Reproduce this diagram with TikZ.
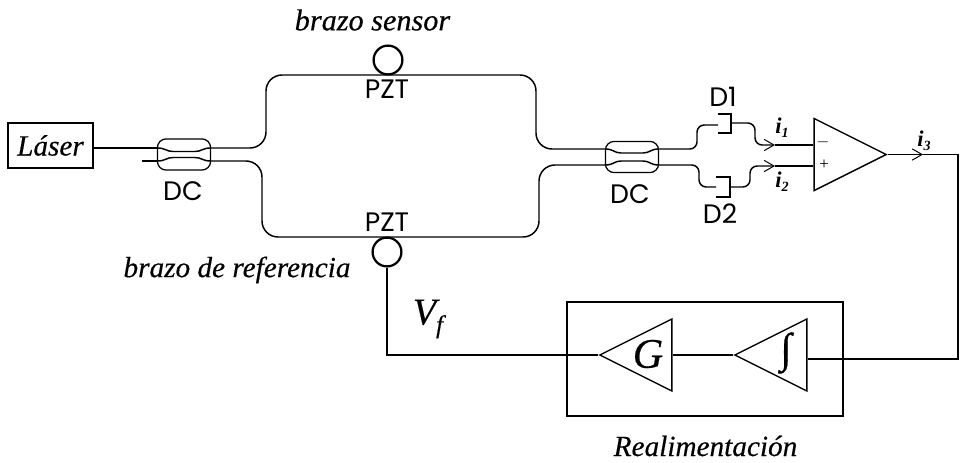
\documentclass[tikz,border=0pt]{standalone}
\usepackage{fontspec}
\usepackage{tikz}
\usetikzlibrary{shapes.geometric,arrows.meta}
\setmainfont{Liberation Serif}[ItalicFeatures={FakeBold=0.4}]
\newfontfamily\tagfont{Poppins}

\begin{document}
\begin{tikzpicture}[
  x=0.025cm,y=-0.025cm,
  fiber/.style={line width=1.05pt,rounded corners=0.4cm},
  sig/.style={line width=1.05pt,rounded corners=0.18cm},
  wire/.style={line width=1.05pt},
  tip/.style={-{Straight Barb[length=7pt,width=8pt,line width=0.7pt]}},
  coupler/.style={draw,line width=0.9pt,rounded corners=0.22cm,minimum width=1.33cm,
                  minimum height=0.78cm,inner sep=0pt},
  pzt/.style={draw,circle,line width=1.6pt,minimum size=0.72cm,inner sep=0pt},
  amp/.style={draw,isosceles triangle,isosceles triangle stretches,line width=1pt,
              minimum width=1.8cm,minimum height=1.8cm,inner sep=0pt},
  tag/.style={font=\tagfont\fontsize{19}{22}\selectfont,inner sep=0pt},
  ital/.style={font=\itshape\fontsize{20.8}{24}\selectfont,inner sep=0pt},
  cur/.style={font=\itshape\bfseries\fontsize{16}{18}\selectfont,inner sep=0pt}
]
\useasboundingbox (0,0) rectangle (960,462);
% Source
\node[draw,line width=1pt,minimum width=2.12cm,minimum height=1.12cm,inner sep=0pt,
      font=\itshape\fontsize{20.8}{24}\selectfont] (laser) at (50.5,145.5) {L\'aser};
% Couplers
\foreach \name/\cx/\cy/\dy/\wy in {dcl/184/154.5/6.5/3,dcr/632/157/8/4}{
  \node[coupler] (\name) at (\cx,\cy) {};
  \coordinate (\name-a) at (\cx-27,\cy-\dy);
  \coordinate (\name-b) at (\cx-27,\cy+\dy);
  \coordinate (\name-c) at (\cx+27,\cy-\dy);
  \coordinate (\name-d) at (\cx+27,\cy+\dy);
  \draw[wire] (\name-a) .. controls (\cx-18,\cy-\dy) and (\cx-18,\cy-\wy) .. (\cx-11,\cy-\wy)
     -- (\cx+11,\cy-\wy) .. controls (\cx+18,\cy-\wy) and (\cx+18,\cy-\dy) .. (\name-c);
  \draw[wire] (\name-b) .. controls (\cx-18,\cy+\dy) and (\cx-18,\cy+\wy) .. (\cx-11,\cy+\wy)
     -- (\cx+11,\cy+\wy) .. controls (\cx+18,\cy+\wy) and (\cx+18,\cy+\dy) .. (\name-d);
}
\node[tag] (dcltag) at (183,191) {DC};
\node[tag] (dcrtag) at (630,194) {DC};
% Arms
\node[pzt] (pztt) at (388,60) {};
\node[pzt] (pztb) at (387,252) {};
\node[tag] (pztttag) at (387,89) {PZT};
\node[tag] (pztbtag) at (387,222) {PZT};
\node[ital,font=\itshape\fontsize{21.5}{25}\selectfont] (sensor) at (372.5,20) {brazo sensor};
\node[ital] (refer) at (237,270) {brazo de referencia};
\coordinate (stub) at (142,161);
\draw[wire] (laser.east |- dcl-a) -- (dcl-a);
\draw[wire] (stub) -- (dcl-b);
\draw[fiber] (dcl-c) -- (266,148) -- (266,75) -- (536,75) -- (536,149) -- (dcr-a);
\draw[fiber] (dcl-d) -- (262,161) -- (262,237) -- (539,237) -- (539,165) -- (dcr-b);
% Detectors
\coordinate (d1in) at (718,125);
\coordinate (d1out) at (731,123);
\coordinate (d2in) at (716,187);
\coordinate (d2out) at (730,187);
\draw[wire] (718,114) -- (731,114) -- (731,133) -- (718,133);
\draw[wire] (716,177) -- (730,177) -- (730,197) -- (716,197);
\node[tag] (d1tag) at (723,97) {D1};
\node[tag] (d2tag) at (720,214) {D2};
\draw[sig] (dcr-c) -- (697,149) -- (697,125) -- (d1in);
\draw[sig] (dcr-d) -- (699,165) -- (699,187) -- (d2in);
% Differential amplifier
\node[amp,anchor=apex] (opamp) at (888,154.5) {};
\node[font=\fontsize{12}{14}\selectfont,inner sep=0pt] (minus) at (823,142) {$-$};
\node[font=\fontsize{12}{14}\selectfont,inner sep=0pt] (plus) at (824,165) {+};
\coordinate (i1tip) at (775,145);
\coordinate (i2tip) at (775,166);
\coordinate (i3tip) at (923,154.5);
\draw[sig,tip] (d1out) -- (755,123) -- (755,145) -- (i1tip);
\draw[sig,tip] (d2out) -- (750,187) -- (750,166) -- (i2tip);
\draw[wire] (i1tip) -- (opamp.west |- i1tip);
\draw[wire] (i2tip) -- (opamp.west |- i2tip);
\draw[wire,tip] (opamp.apex) -- (i3tip);
\node[cur] (i1) at (782,128) {i\raisebox{-3pt}{\fontsize{10}{12}\selectfont 1}};
\node[cur] (i2) at (782,182) {i\raisebox{-3pt}{\fontsize{10}{12}\selectfont 2}};
\node[cur] (i3) at (924,141) {i\raisebox{-3pt}{\fontsize{10}{12}\selectfont 3}};
% Feedback
\node[draw,line width=1pt,minimum width=6.9cm,minimum height=2.85cm,inner sep=0pt] (loopbox) at (705,359) {};
\node[amp,shape border rotate=180,anchor=apex] (gain) at (598,355) {};
\node[amp,shape border rotate=180,anchor=apex] (integ) at (733,355) {};
\node[inner sep=0pt,font=\itshape\fontsize{30}{32}\selectfont] (gtext) at (648,354) {G};
\node[inner sep=0pt,font=\itshape\fontsize{30}{32}\selectfont] (itext) at (786,353) {∫};
\node[ital] (realim) at (705.5,446) {Realimentaci\'on};
\coordinate (back) at (958,359);
\draw[wire] (i3tip) -| (back) -- (integ.east |- back);
\draw[wire] (integ.apex) -- (gain.east);
\draw[wire] (gain.apex) -| (pztb.south);
\node[inner sep=0pt,font=\itshape\fontsize{27}{30}\selectfont] (vf) at (428,319) {V\raisebox{-6pt}{\fontsize{18}{20}\selectfont f}};
\end{tikzpicture}
\end{document}
